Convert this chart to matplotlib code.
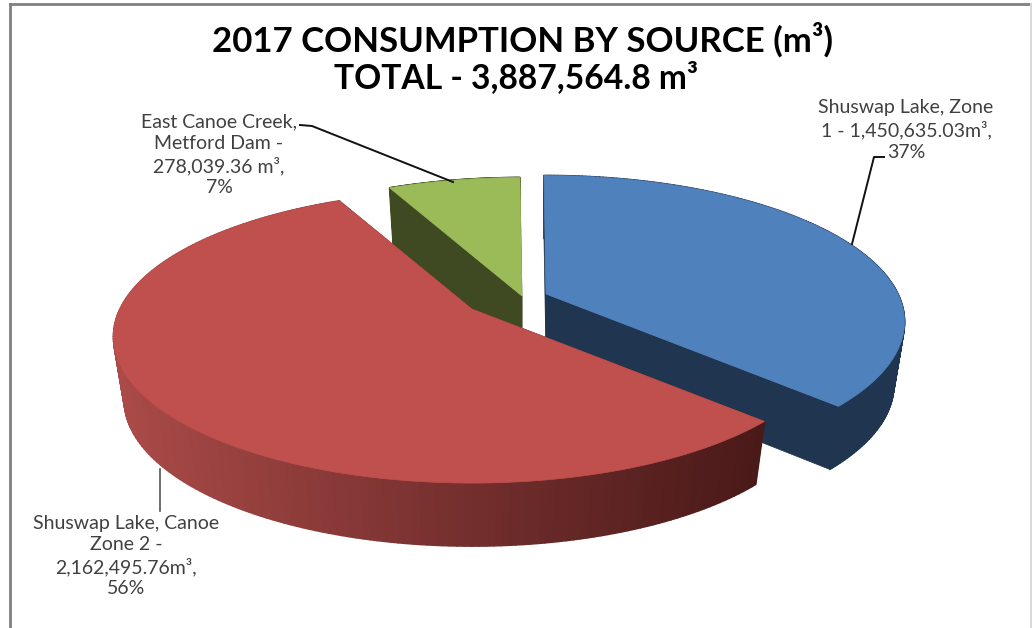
# plot.py - 2017 consumption by source, drawn as an exploded 3D pie

import numpy as np
import matplotlib
matplotlib.use('Agg')
import matplotlib.pyplot as plt
from matplotlib.collections import PolyCollection
from matplotlib.patches import Polygon

# Data
sources = ['Shuswap Lake, Zone 1', 'Shuswap Lake, Canoe Zone 2', 'East Canoe Creek, Metford Dam']
volumes = [1450635.03, 2162495.76, 278039.36]

title_lines = ['2017 CONSUMPTION BY SOURCE (m³)', 'TOTAL - 3,887,564.8 m³']
label_texts = [
    'Shuswap Lake, Zone\n1 - 1,450,635.03m³,\n37%',
    'Shuswap Lake, Canoe\nZone 2 -\n2,162,495.76m³,\n56%',
    'East Canoe Creek,\nMetford Dam -\n278,039.36 m³,\n7%',
]

# Colours of the slices
top_colors = ['#4f81bd', '#c0504d', '#9bbb59']
wall_colors = ['#1f3550', '#8a3735', '#3f4a23']

# Projection of the pie, in pixels of the 1032x628 picture
rx = 352
ry = 141
persp = 0.19
depth = 63
shrink = 0.97
rotation = np.radians(-0.4)
apex = [(546, 294), (472, 309), (522, 296)]

plt.rcParams['font.family'] = ['Lato', 'DejaVu Sans']

fig = plt.figure(figsize=(10.32, 6.28), dpi=100)
ax = fig.add_axes([0, 0, 1, 1])
ax.set_xlim(0, 1032)
ax.set_ylim(628, 0)
ax.axis('off')


def project(theta, centre, bottom=False):
    # theta in radians, clockwise from the back of the pie
    u = np.sin(theta)
    v = np.cos(theta)
    w = 1 + persp * v
    if bottom:
        return centre[0] + shrink * rx * u / w, centre[1] + depth - ry * v / w
    return centre[0] + rx * u / w, centre[1] - ry * v / w


# Slice angles come from the volumes
fracs = np.array(volumes) / np.sum(volumes)
edges = np.concatenate([[0], np.cumsum(fracs)]) * 2 * np.pi + rotation

# Green first, then blue, red goes on top of both
for i in [2, 0, 1]:
    c = apex[i]
    t = np.linspace(edges[i], edges[i + 1], 200)
    xt, yt = project(t, c)
    xb, yb = project(t, c, bottom=True)

    # Straight walls from the centre to the rim
    for k in [0, -1]:
        wall = [(c[0], c[1]), (xt[k], yt[k]), (xb[k], yb[k]), (c[0], c[1] + depth)]
        shade = '#4d1b1a' if i == 1 else wall_colors[i]
        ax.add_patch(Polygon(wall, closed=True, fc=shade, ec=shade, lw=0.5))

    # Outer wall, the red one has a gradient from left to right
    quads = [[(xt[j], yt[j]), (xt[j + 1], yt[j + 1]), (xb[j + 1], yb[j + 1]), (xb[j], yb[j])]
             for j in range(len(t) - 1)]
    if i == 1:
        shades = np.interp(xt[:-1], [110, 300, 500, 760], [0.0, 0.3, 0.62, 1.0])
        left = np.array(matplotlib.colors.to_rgb('#ab4b48'))
        right = np.array(matplotlib.colors.to_rgb('#4a1a19'))
        cols = [left + (right - left) * s for s in shades]
    else:
        cols = [wall_colors[i]] * len(quads)
    ax.add_collection(PolyCollection(quads, facecolors=cols, edgecolors=cols, linewidths=1.2))

    # Top of the slice
    top = np.column_stack([np.r_[c[0], xt], np.r_[c[1], yt]])
    ax.add_patch(Polygon(top, closed=True, fc=top_colors[i], ec=top_colors[i], lw=0.5))

# Leader lines
ax.plot([884, 874, 852], [157, 157, 244], color='#111111', lw=1.4)
ax.plot([160, 160], [469, 511], color='#555555', lw=1.2)
ax.plot([300, 312, 453], [125, 126, 182], color='#111111', lw=1.4)

# Frame of the chart area
ax.plot([10, 10], [628, 4], color='#808080', lw=2)
ax.plot([10, 1031], [4, 4], color='#808080', lw=2)
ax.plot([1031, 1031], [4, 628], color='#d9d9d9', lw=1.5)

# Titles and labels
ax.text(523, 40, title_lines[0], ha='center', va='center', fontsize=25, fontweight='bold', color='black')
ax.text(516, 78, title_lines[1], ha='center', va='center', fontsize=24.2, fontweight='bold', color='black')

label_pos = [(906, 130), (126, 556), (219, 155)]
for txt, pos in zip(label_texts, label_pos):
    ax.text(pos[0], pos[1], txt, ha='center', va='center', fontsize=14, color='#404040', linespacing=1.29)

fig.savefig('out.png', dpi=100)
